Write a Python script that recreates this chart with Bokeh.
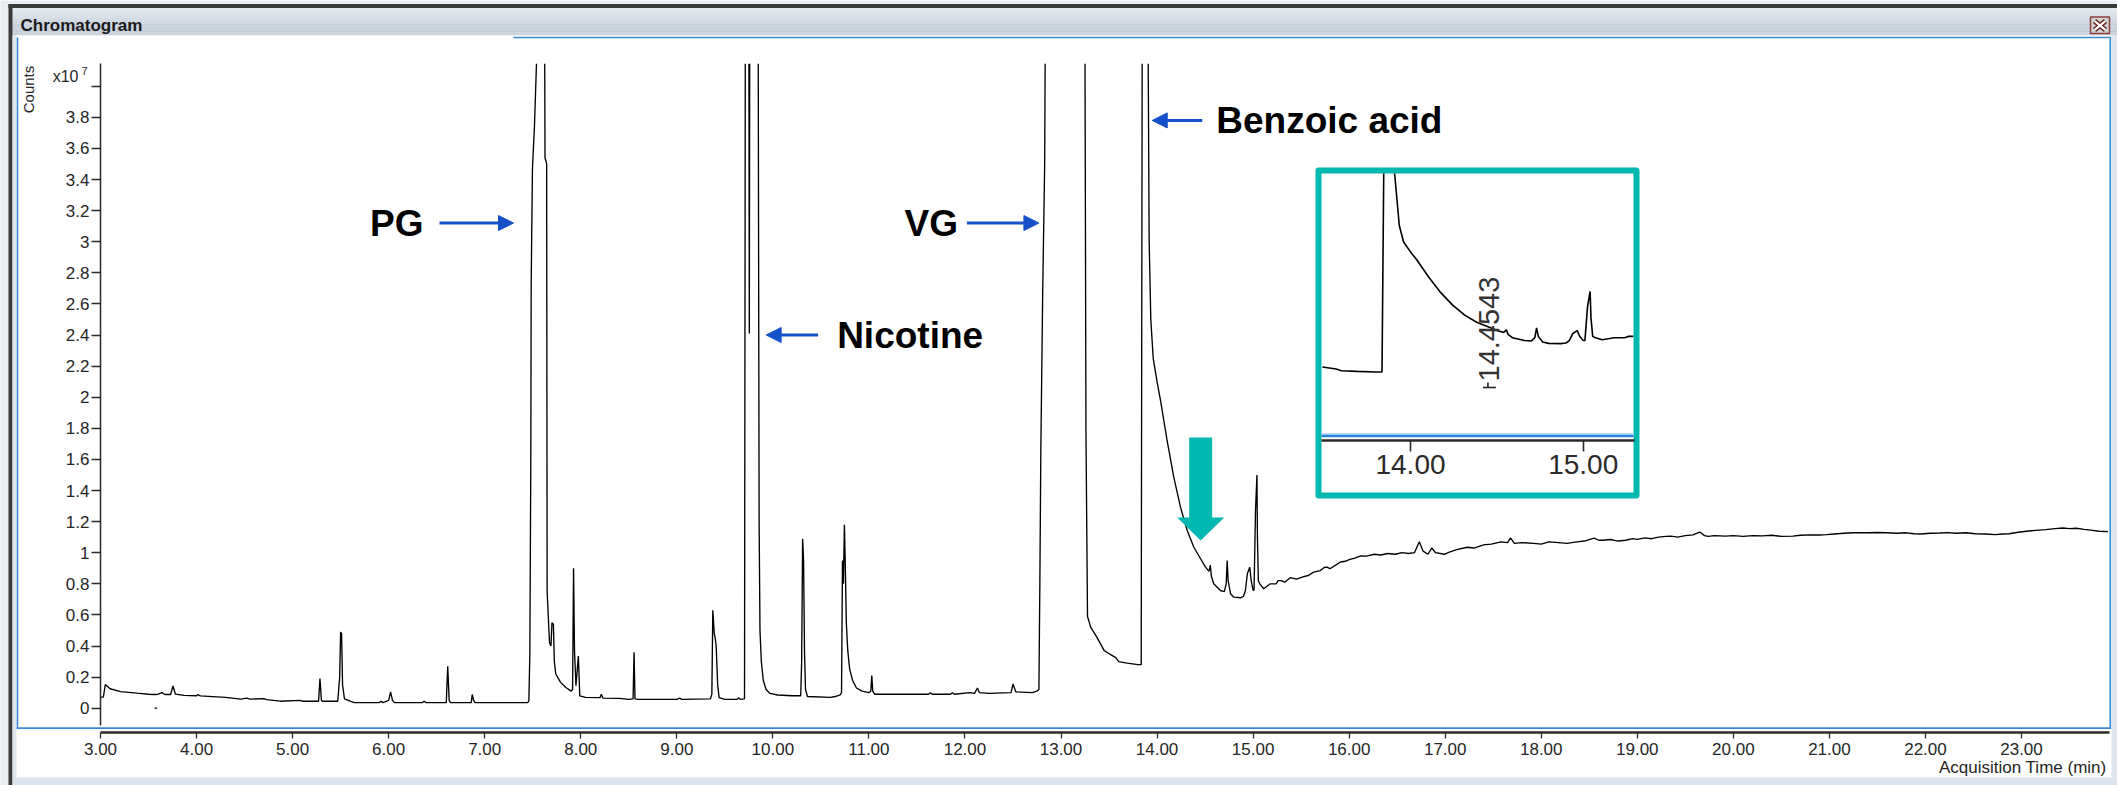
import numpy as np
from bokeh.plotting import figure
from bokeh.models import Range1d, LinearAxis, FixedTicker, NumeralTickFormatter, Arrow, NormalHead
from bokeh.core.properties import value
from bokeh.embed import file_html
from bokeh.resources import INLINE

NAN = float("nan")

# ---------------- data ----------------
# Total ion chromatogram: acquisition time (min) and counts (x10^7).
# NaN marks the saturated apex of an off-scale peak (the trace leaves the axis there).
TIME_MIN = [
    3.00, 3.03, 3.05, 3.10, 3.21, 3.38, 3.50, 3.56, 3.60, 3.64, 3.67, 3.73, 3.755, 3.78, 3.87,
    4.00, 4.01, 4.04, 4.30, 4.46, 4.52, 4.56, 4.70, 4.73, 4.87, 5.08, 5.10, 5.27, 5.285, 5.30,
    5.31, 5.47, 5.49, 5.50, 5.51, 5.52, 5.54, 5.58, 5.64, 5.90, 5.92, 5.94, 6.00, 6.02, 6.04,
    6.06, 6.35, 6.37, 6.39, 6.60, 6.615, 6.63, 6.645, 6.86, 6.87, 6.885, 6.90, 7.45,
    # propylene glycol
    7.46, 7.47, 7.48, 7.484, 7.497, 7.518, 7.539, 7.58, 7.625, 7.628, 7.645, 7.650, 7.665,
    7.675, 7.690, 7.700, 7.715, 7.725, 7.740, 7.790, 7.845, 7.900, 7.915, 7.925, 7.935, 7.950,
    7.975, 7.990, 8.05, 8.20, 8.215, 8.23, 8.40, 8.50, 8.545, 8.555, 8.565, 8.60, 9.00, 9.03,
    9.05, 9.35, 9.365, 9.375, 9.390, 9.400, 9.410, 9.425, 9.440, 9.50, 9.63, 9.645, 9.66,
    # nicotine
    9.705, 9.713, 9.73, 9.751, 9.755, 9.759, 9.80, 9.848, 9.857, 9.866, 9.880, 9.900, 9.930,
    9.970, 10.05, 10.20, 10.29, 10.30, 10.31, 10.32, 10.33, 10.34, 10.36, 10.60, 10.65, 10.70,
    10.715, 10.725, 10.735, 10.745, 10.755, 10.765, 10.78, 10.80, 10.83, 10.87, 10.93, 11.00,
    11.02, 11.03, 11.04, 11.06, 11.62, 11.64, 11.66, 11.85, 11.87, 11.89, 12.05, 12.10, 12.13,
    12.15, 12.25, 12.48, 12.50, 12.53, 12.70, 12.75, 12.77,
    # glycerol
    12.78, 12.79, 12.81, 12.83, 12.835, 13.05, 13.25, 13.26, 13.276, 13.31, 13.37, 13.45,
    13.49, 13.53, 13.57, 13.60, 13.69, 13.80, 13.835,
    # benzoic acid
    13.845, 13.875, 13.908, 13.918, 13.935, 13.96, 14.00, 14.036, 14.105, 14.174, 14.244,
    14.314, 14.383, 14.453, 14.505, 14.54, 14.555, 14.565, 14.59, 14.66, 14.70, 14.72, 14.73,
    14.74, 14.765, 14.80, 14.87, 14.90, 14.92, 14.94, 14.965, 14.98, 15.00, 15.01, 15.025,
    15.04, 15.045, 15.055, 15.07, 15.11, 15.18, 15.24, 15.26, 15.29,
    # rising column bleed
    15.33, 15.39, 15.45, 15.52, 15.58, 15.63, 15.70, 15.74, 15.77, 15.80, 15.86, 15.91, 15.96,
    16.00, 16.06, 16.12, 16.18, 16.26, 16.33, 16.40, 16.48, 16.55, 16.62, 16.68, 16.73, 16.77,
    16.82, 16.86, 16.90, 16.99, 17.05, 17.12, 17.23, 17.30, 17.40, 17.48, 17.58, 17.65, 17.68,
    17.72, 17.80, 17.92, 18.00, 18.08, 18.18, 18.27, 18.35, 18.45, 18.55, 18.60, 18.64, 18.72,
    18.80, 18.88, 18.95, 19.00, 19.08, 19.15, 19.22, 19.30, 19.35, 19.42, 19.50, 19.58, 19.65,
    19.70, 19.74, 19.80, 19.92, 20.00, 20.10, 20.20, 20.30, 20.40, 20.50, 20.62, 20.70, 20.80,
    20.90, 20.97, 21.05, 21.15, 21.25, 21.32, 21.40, 21.50, 21.60, 21.70, 21.80, 21.88, 21.95,
    22.05, 22.15, 22.23, 22.32, 22.42, 22.52, 22.62, 22.73, 22.80, 22.87, 22.95, 23.05, 23.15,
    23.25, 23.35, 23.43, 23.50, 23.57, 23.65, 23.72, 23.81, 23.90,
]
COUNTS_E7 = [
    0.071, 0.072, 0.152, 0.125, 0.107, 0.097, 0.090, 0.088, 0.090, 0.100, 0.088, 0.088, 0.143, 0.090, 0.082,
    0.080, 0.087, 0.079, 0.070, 0.058, 0.065, 0.058, 0.062, 0.055, 0.045, 0.050, 0.045, 0.045, 0.190, 0.050,
    0.045, 0.045, 0.200, 0.490, 0.480, 0.150, 0.060, 0.050, 0.036, 0.036, 0.045, 0.036, 0.050, 0.105, 0.050,
    0.036, 0.036, 0.045, 0.036, 0.036, 0.270, 0.050, 0.036, 0.036, 0.088, 0.050, 0.036, 0.036,
    0.050, 0.350, 1.600, 2.730, 3.470, 3.740, 4.145, NAN, 4.145, 3.540, 3.500, 0.750, 0.550,
    0.420, 0.400, 0.550, 0.540, 0.300, 0.220, 0.166, 0.133, 0.110, 0.120, 0.900, 0.370, 0.144,
    0.335, 0.079, 0.070, 0.068, 0.090, 0.065, 0.063, 0.057, 0.060, 0.360, 0.060, 0.057, 0.057, 0.065,
    0.057, 0.060, 0.090, 0.630, 0.480, 0.450, 0.400, 0.155, 0.068, 0.057, 0.057, 0.068, 0.057,
    0.060, 4.145, NAN, 4.145, 2.410, 4.145, NAN, 4.145, 1.200, 0.500, 0.300, 0.180, 0.120,
    0.095, 0.085, 0.080, 0.080, 0.300, 1.090, 0.950, 0.350, 0.120, 0.075, 0.070, 0.075, 0.085,
    0.100, 0.950, 0.800, 1.180, 0.900, 0.550, 0.370, 0.250, 0.180, 0.130, 0.110, 0.100,
    0.110, 0.210, 0.110, 0.090, 0.090, 0.100, 0.090, 0.090, 0.100, 0.090, 0.100, 0.095, 0.130,
    0.100, 0.095, 0.100, 0.155, 0.105, 0.100, 0.110, 0.120,
    0.810, 1.660, 2.700, 3.500, 4.145, NAN, 4.145, 1.770, 0.590, 0.520, 0.460, 0.370,
    0.355, 0.340, 0.325, 0.300, 0.290, 0.280, 0.280,
    4.145, NAN, 4.145, 3.000, 2.500, 2.250, 2.100, 1.980, 1.720, 1.486, 1.293,
    1.143, 1.035, 0.961, 0.907, 0.880, 0.920, 0.850, 0.800, 0.757, 0.750, 0.800, 0.950,
    0.820, 0.736, 0.714, 0.710, 0.720, 0.757, 0.864, 0.907, 0.820, 0.757, 0.760, 1.270,
    1.500, 1.100, 0.820, 0.800, 0.768, 0.800, 0.800, 0.820, 0.820,
    0.810, 0.840, 0.830, 0.845, 0.855, 0.875, 0.885, 0.905, 0.907, 0.897, 0.920, 0.940, 0.945,
    0.955, 0.965, 0.980, 0.978, 0.990, 0.985, 0.995, 0.990, 1.000, 0.995, 1.000, 1.070, 1.010,
    0.990, 1.030, 1.000, 0.990, 1.005, 1.020, 1.035, 1.030, 1.050, 1.055, 1.070, 1.065, 1.096,
    1.060, 1.065, 1.060, 1.055, 1.070, 1.065, 1.060, 1.068, 1.075, 1.094, 1.080, 1.080, 1.085,
    1.075, 1.080, 1.090, 1.086, 1.095, 1.090, 1.100, 1.105, 1.107, 1.100, 1.110, 1.115, 1.133,
    1.110, 1.105, 1.110, 1.107, 1.110, 1.105, 1.110, 1.108, 1.112, 1.105, 1.107, 1.112, 1.115,
    1.114, 1.116, 1.120, 1.125, 1.128, 1.129, 1.128, 1.130, 1.128, 1.125, 1.128, 1.122, 1.120,
    1.125, 1.127, 1.129, 1.125, 1.128, 1.122, 1.120, 1.116, 1.120, 1.122, 1.130, 1.138, 1.144,
    1.148, 1.155, 1.159, 1.155, 1.157, 1.150, 1.145, 1.138, 1.136,
]
# stray data point drawn near 3.57 min
STRAY_T = [3.562, 3.590]
STRAY_V = [0.0, 0.0]

X_TICKS = [3, 4, 5, 6, 7, 8, 9, 10, 11, 12, 13, 14, 15, 16, 17, 18, 19, 20, 21, 22, 23]
Y_TICKS = [0, 0.2, 0.4, 0.6, 0.8, 1, 1.2, 1.4, 1.6, 1.8, 2, 2.2, 2.4, 2.6, 2.8, 3,
           3.2, 3.4, 3.6, 3.8, 4]
Y_TICK_LABELS = ["0", "0.2", "0.4", "0.6", "0.8", "1", "1.2", "1.4", "1.6", "1.8", "2", "2.2",
                 "2.4", "2.6", "2.8", "3", "3.2", "3.4", "3.6", "3.8", ""]

# peak annotations (arrow tip in time / counts)
PEAK_NAMES = ["PG", "Nicotine", "VG", "Benzoic acid"]
PEAK_TIP_T = [7.30, 9.93, 12.77, 13.95]
PEAK_TIP_V = [3.12, 2.40, 3.12, 3.78]

# highlighted retention time
MARKED_RT = 14.4543
MARKED_TIP_V = 1.078
INSET_TICKS = [14, 15]
INSET_T_RANGE = [13.485, 15.295]

# ---------------- geometry & style ----------------
W, H = 2117, 785
X3_PX, PX_PER_MIN = 100.0, 96.05        # main time axis: 3.00 min at x=100
ZERO_PX, PX_PER_UNIT = 707.7, 155.5     # main counts axis: 0 at y=707.7
XAXIS_PX = 731.7
IN_X14_PX, IN_PX_PER_MIN = 1410.0, 172.7  # inset: 14.00 min at x=1410
IN_ZERO_PX, IN_PX_PER_UNIT = 390.0, 66.0
IN_TOP_PX, IN_AXIS_PX = 173.0, 440.0

FONT = "Liberation Sans"
BLUE = "#1550c8"
TEAL = "#00b8af"
FRAME_BLUE = "#3a8ad8"
TXT = "#262626"

p = figure(
    width=W, height=H,
    x_range=Range1d(3 - X3_PX / PX_PER_MIN, 3 + (W - X3_PX) / PX_PER_MIN),
    y_range=Range1d(-(H - ZERO_PX) / PX_PER_UNIT, ZERO_PX / PX_PER_UNIT),
    x_axis_type=None, y_axis_type=None,
    output_backend="svg", toolbar_location=None,
    min_border=0, min_border_left=0, min_border_right=0, min_border_top=0, min_border_bottom=0,
    background_fill_color="#e9eef3", border_fill_color="#e9eef3", outline_line_color=None,
)
p.grid.visible = False
p.extra_x_ranges = {
    "px": Range1d(0, W),
    "inset_x": Range1d(14 - IN_X14_PX / IN_PX_PER_MIN, 14 + (W - IN_X14_PX) / IN_PX_PER_MIN),
}
p.extra_y_ranges = {
    "py": Range1d(H, 0),
    "inset_y": Range1d((IN_ZERO_PX - H) / IN_PX_PER_UNIT, IN_ZERO_PX / IN_PX_PER_UNIT),
}
PX = dict(x_range_name="px", y_range_name="py")
INSET = dict(x_range_name="inset_x", y_range_name="inset_y")

# ---------------- window chrome ----------------
title_shades = ["#e4e9ef", "#dde4eb", "#d8dfe7", "#d3dbe4", "#cfd7e1", "#cbd4de", "#c8d1dc", "#c5cfda", "#c9d2dd"]
band = 27.5 / len(title_shades)
p.quad(left=[12] * len(title_shades), right=[W] * len(title_shades),
       top=[7.5 + i * band for i in range(len(title_shades))],
       bottom=[7.5 + (i + 1) * band for i in range(len(title_shades))],
       fill_color=title_shades, line_color=None, **PX)
p.quad(left=[8, 8, 12, 16, 12], right=[W, 12, W, 2111, W], top=[3.5, 3.5, 35, 35, 777],
       bottom=[7.5, H, 777, 777, H],
       fill_color=["#3a3a3a", "#3a3a3a", "#dfe6ee", "#ffffff", "#dbe3ec"], line_color=None, **PX)
# panel frame
p.quad(left=[16.2, 2109, 16.2, 513], right=[17.8, 2110.6, 2110.6, 2110.6],
       top=[37, 37, 726.8, 36.2], bottom=[728.6, 728.6, 728.6, 37.8],
       fill_color=FRAME_BLUE, line_color=None, **PX)
p.text(x=[20], y=[25], text=["Chromatogram"], text_font=value(FONT), text_font_style="bold",
       text_font_size="17px", text_color="#1a1a1a", text_baseline="middle", **PX)
# close button
p.quad(left=[2090], right=[2109], top=[16.5], bottom=[33], fill_color="#d2d2d2",
       line_color="#8e3e3e", line_width=1.5, **PX)
p.segment(x0=[2094, 2105], y0=[20.5, 20.5], x1=[2105, 2094], y1=[29.5, 29.5],
          line_color="#6a2a2a", line_width=5, **PX)
p.segment(x0=[2094, 2105], y0=[20.5, 20.5], x1=[2105, 2094], y1=[29.5, 29.5],
          line_color="#ffffff", line_width=2.2, **PX)

# axis captions
p.text(x=[28], y=[89], text=["Counts"], angle=np.pi / 2, text_font=value(FONT),
       text_font_size="15px", text_color=TXT, text_align="center", text_baseline="middle", **PX)
p.text(x=[78], y=[76], text=["x10"], text_font=value(FONT), text_font_size="16px",
       text_color=TXT, text_align="right", text_baseline="middle", **PX)
p.text(x=[81], y=[70], text=["7"], text_font=value(FONT), text_font_size="11px",
       text_color=TXT, text_align="left", text_baseline="middle", **PX)
p.text(x=[2106], y=[767], text=["Acquisition Time (min)"], text_font=value(FONT),
       text_font_size="17px", text_color=TXT, text_align="right", text_baseline="middle", **PX)

# ---------------- main trace ----------------
t_all = np.array(TIME_MIN, dtype=float)
c_all = np.array(COUNTS_E7, dtype=float)
p.line(t_all, c_all, line_color="black", line_width=1.35)
p.line(STRAY_T, STRAY_V, line_color="black", line_width=1.3)

yaxis = LinearAxis(fixed_location=3.0, bounds=(-0.112, 4.145), ticker=FixedTicker(ticks=Y_TICKS),
                   major_label_overrides={t: s for t, s in zip(Y_TICKS, Y_TICK_LABELS)})
xaxis = LinearAxis(fixed_location=(ZERO_PX - XAXIS_PX) / PX_PER_UNIT, bounds=(3.0, 23.92),
                   ticker=FixedTicker(ticks=X_TICKS), formatter=NumeralTickFormatter(format="0.00"))
for ax, size, line_w, tick_out, standoff in ((yaxis, "17px", 1.5, 9, 2), (xaxis, "17px", 2.5, 6, 5)):
    ax.axis_line_color = "#2a2a2a"
    ax.axis_line_width = line_w
    ax.major_tick_line_color = "#2a2a2a"
    ax.major_tick_line_width = 1.3
    ax.major_tick_in = 0
    ax.major_tick_out = tick_out
    ax.minor_tick_line_color = None
    ax.major_label_text_font = FONT
    ax.major_label_text_font_size = size
    ax.major_label_text_color = TXT
    ax.major_label_standoff = standoff
p.add_layout(yaxis, "left")
p.add_layout(xaxis, "below")

# ---------------- peak labels ----------------
ARROW_LEN_PX = [74, 52, 72, 50]
TEXT_GAP_PX = [16, 19, 9, 14]
POINTS_LEFT = [False, True, False, True]   # arrow points left, text to its right
for name, tt, tv, ln, gap, left in zip(PEAK_NAMES, PEAK_TIP_T, PEAK_TIP_V, ARROW_LEN_PX,
                                       TEXT_GAP_PX, POINTS_LEFT):
    sgn = 1 if left else -1
    tail = tt + sgn * ln / PX_PER_MIN
    p.add_layout(Arrow(end=NormalHead(size=15, fill_color=BLUE, line_color=BLUE, line_width=1),
                       x_start=tail, y_start=tv, x_end=tt, y_end=tv,
                       line_color=BLUE, line_width=3))
    p.text(x=[tail], y=[tv], text=[name], x_offset=sgn * gap, text_font=value(FONT),
           text_font_style="bold", text_font_size="37px", text_color="black",
           text_align="left" if left else "right", text_baseline="middle")

# down arrow at the marked retention time
shape = [(-11.5, 103), (11.5, 103), (11.5, 23), (23.5, 23), (0, 0), (-23.5, 23), (-11.5, 23)]
p.patch([MARKED_RT + dx / PX_PER_MIN for dx, dy in shape],
        [MARKED_TIP_V + dy / PX_PER_UNIT for dx, dy in shape],
        fill_color=TEAL, line_color=None)

# ---------------- zoomed inset ----------------
p.quad(left=[1318], right=[1636], top=[170], bottom=[495], fill_color="white",
       line_color=TEAL, line_width=6, line_join="round", **PX)
p.quad(left=[1321, 1321], right=[1633, 1633], top=[432.7, 434.3], bottom=[434.3, 436.8],
       fill_color=["#a9d1f5", "#2f86d8"], line_color=None, **PX)

v_top = (IN_ZERO_PX - IN_TOP_PX) / IN_PX_PER_UNIT
sel = (t_all >= INSET_T_RANGE[0]) & (t_all <= INSET_T_RANGE[1])
p.line(t_all[sel], np.minimum(c_all[sel], v_top), line_color="black", line_width=1.6, **INSET)

rt_v = (IN_ZERO_PX - 381) / IN_PX_PER_UNIT
p.text(x=[MARKED_RT], y=[rt_v], text=[f"{MARKED_RT:.4f}"], angle=np.pi / 2,
       text_font=value(FONT), text_font_size="29px", text_color="#333333",
       text_align="left", text_baseline="middle", **INSET)
tick_v = (IN_ZERO_PX - 387) / IN_PX_PER_UNIT
p.segment(x0=[MARKED_RT - 6 / IN_PX_PER_MIN, MARKED_RT - 1 / IN_PX_PER_MIN],
          y0=[tick_v, tick_v],
          x1=[MARKED_RT + 7 / IN_PX_PER_MIN, MARKED_RT - 1 / IN_PX_PER_MIN],
          y1=[tick_v, tick_v + 5 / IN_PX_PER_UNIT],
          line_color="#222222", line_width=1.6, **INSET)

iaxis = LinearAxis(x_range_name="inset_x", y_range_name="inset_y",
                   fixed_location=(IN_ZERO_PX - IN_AXIS_PX) / IN_PX_PER_UNIT,
                   bounds=tuple(INSET_T_RANGE), ticker=FixedTicker(ticks=INSET_TICKS),
                   formatter=NumeralTickFormatter(format="0.00"))
iaxis.axis_line_color = "#2a2a2a"
iaxis.axis_line_width = 2.6
iaxis.major_tick_line_color = "#2a2a2a"
iaxis.major_tick_line_width = 1.6
iaxis.major_tick_in = 0
iaxis.major_tick_out = 11
iaxis.minor_tick_line_color = None
iaxis.major_label_text_font = FONT
iaxis.major_label_text_font_size = "28px"
iaxis.major_label_text_color = "#2a2a2a"
iaxis.major_label_standoff = 3
p.add_layout(iaxis, "below")

open("out.html", "w").write(file_html(p, INLINE))
